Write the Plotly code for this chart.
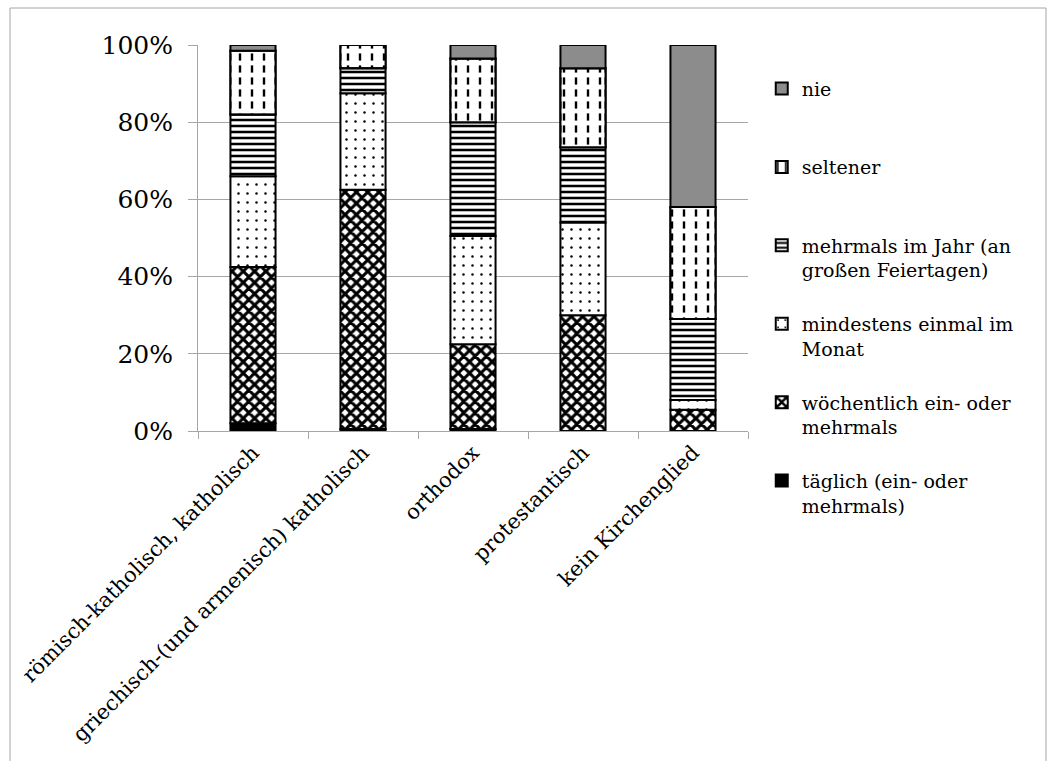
import numpy as np
import plotly.graph_objects as go

categories = [
    "römisch-katholisch, katholisch",
    "griechisch-(und armenisch) katholisch",
    "orthodox",
    "protestantisch",
    "kein Kirchenglied",
]

# share of respondents (%) per attendance frequency, bottom to top of each bar
taeglich = [2.0, 0.5, 0.5, 0.0, 0.0]
woechentlich = [40.5, 62.0, 22.0, 30.0, 5.5]
monatlich = [23.5, 25.0, 28.0, 24.0, 2.5]
mehrmals_jahr = [16.0, 6.5, 29.5, 19.5, 21.0]
seltener = [16.5, 6.0, 16.5, 20.5, 29.0]
nie = [1.5, 0.0, 3.5, 6.0, 42.0]

series_names = [
    "täglich (ein- oder<br>mehrmals)",
    "wöchentlich ein- oder<br>mehrmals",
    "mindestens einmal im<br>Monat",
    "mehrmals im Jahr (an<br>großen Feiertagen)",
    "seltener<br> ",
    "nie<br> ",
]
series_values = [taeglich, woechentlich, monatlich, mehrmals_jahr, seltener, nie]

y_ticks = [0, 20, 40, 60, 80, 100]
y_tick_labels = ["0%", "20%", "40%", "60%", "80%", "100%"]

FONT = "DejaVu Serif"
BAR_W = 0.41


def pat(shape, size, solidity):
    return dict(shape=shape, fgcolor="black", bgcolor="white", fgopacity=1,
                size=size, solidity=solidity)


fills = [
    dict(color="black"),
    dict(color="white", pattern=pat("x", 8, 0.62)),
    dict(color="white", pattern=pat(".", 9, 0.06)),
    dict(color="white", pattern=pat("-", 6, 0.42)),
    dict(color="white", pattern=pat("|", 12, 0.2)),
    dict(color="#8c8c8c"),
]

values = np.array(series_values, dtype=float)
bases = np.vstack([np.zeros(values.shape[1]), np.cumsum(values, axis=0)[:-1]])

fig = go.Figure()
for i, (name, vals, base, fill) in enumerate(zip(series_names, values, bases, fills)):
    fig.add_trace(go.Bar(
        x=categories, y=vals, base=base, name=name,
        legendgroup=f"g{i}", legendrank=10 - i,
        marker=dict(line=dict(color="black", width=2), **fill),
        width=BAR_W,
    ))
    if i == 4:
        # white bands chop the vertical strokes into short dashes
        fig.add_trace(go.Bar(
            x=categories, y=vals, base=base, showlegend=False, hoverinfo="skip",
            marker=dict(color="rgba(0,0,0,0)", line=dict(width=0),
                        pattern=dict(shape="-", fgcolor="white", bgcolor="rgba(0,0,0,0)",
                                     fgopacity=1, size=12, solidity=0.4)),
            width=BAR_W,
        ))
        # redraw the segment outline above the bands
        fig.add_trace(go.Bar(
            x=categories, y=vals, base=base, showlegend=False, hoverinfo="skip",
            marker=dict(color="rgba(0,0,0,0)", line=dict(color="black", width=2)),
            width=BAR_W,
        ))

fig.update_layout(
    barmode="overlay",
    width=1058,
    height=761,
    margin=dict(l=198, r=310, t=45, b=330),
    paper_bgcolor="white",
    plot_bgcolor="white",
    font=dict(family=FONT, color="black"),
    legend=dict(
        x=1.025, xanchor="left", y=0.936, yanchor="top",
        traceorder="grouped", tracegroupgap=26, valign="top",
        font=dict(family=FONT, size=19, color="black"),
        itemwidth=30, maxheight=700,
    ),
    yaxis=dict(
        range=[0, 100],
        tickvals=y_ticks,
        ticktext=y_tick_labels,
        showgrid=True, gridcolor="#a6a6a6", gridwidth=1,
        showline=True, linecolor="#a6a6a6", linewidth=1,
        ticks="outside", ticklen=9, tickcolor="#a6a6a6",
        tickfont=dict(family=FONT, size=25),
        ticklabelstandoff=10,
        zeroline=False,
    ),
    xaxis=dict(
        showline=True, linecolor="#a6a6a6", linewidth=1,
        ticks="outside", ticklen=7, tickcolor="#a6a6a6", tickson="boundaries",
        tickangle=-45,
        tickfont=dict(family=FONT, size=21),
    ),
    shapes=[dict(type="path", xref="paper", yref="paper",
                 path=f"M {-188 / 550} {-330 / 386} L {-188 / 550} {1 + 37 / 386} "
                      f"L {1 + 298 / 550} {1 + 37 / 386} L {1 + 298 / 550} {-330 / 386}",
                 line=dict(color="#a6a6a6", width=1))],
)

fig.write_html("out.html")
